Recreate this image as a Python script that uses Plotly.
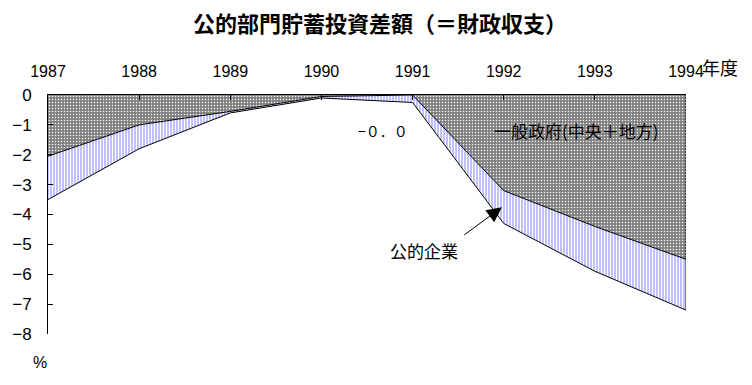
import plotly.graph_objects as go

years = [1987, 1988, 1989, 1990, 1991, 1992, 1993, 1994]
general_gov = [-2.05, -1.0, -0.55, -0.05, 0.0, -3.2, -4.4, -5.5]
public_ent = [-1.45, -0.8, -0.05, -0.05, -0.25, -1.1, -1.5, -1.7]
total = [g + p for g, p in zip(general_gov, public_ent)]
y_ticks = [0, -1, -2, -3, -4, -5, -6, -7, -8]
x_tick_labels = ["1987", "1988", "1989", "1990", "1991", "1992", "1993", "1994"]

CJK = "Noto Sans CJK JP"
NUM = "Liberation Sans"

fig = go.Figure()
fig.add_trace(go.Scatter(
    x=years, y=general_gov, mode="lines", fill="tozeroy",
    line=dict(color="black", width=1),
    fillcolor="#808080",
    fillpattern=dict(shape=".", bgcolor="#808080", fgcolor="white", size=3, solidity=0.2, fillmode="replace"),
    showlegend=False, hoverinfo="skip"))
fig.add_trace(go.Scatter(
    x=years, y=total, mode="lines", fill="tonexty",
    line=dict(color="black", width=1),
    fillcolor="#c0c0ff",
    fillpattern=dict(shape="|", bgcolor="#c0c0ff", fgcolor="white", size=3, solidity=0.34, fillmode="replace"),
    showlegend=False, hoverinfo="skip"))
# right edge of the area
fig.add_trace(go.Scatter(
    x=[years[-1], years[-1]], y=[0, total[-1]], mode="lines",
    line=dict(color="black", width=1), showlegend=False, hoverinfo="skip"))

# page body has an 8px margin: shrink the figure so it fits the 752x385 window
fig.update_layout(
    width=744, height=377,
    margin=dict(l=40, r=66, t=87, b=51, autoexpand=False),
    paper_bgcolor="white", plot_bgcolor="white",
    font=dict(family=CJK, color="black", size=16),
    title=dict(text="<b>公的部門貯蓄投資差額（＝財政収支）</b>", x=0.5, xanchor="center",
               y=0.958, yanchor="middle", font=dict(family=CJK, size=22, color="black")),
)
fig.update_xaxes(
    side="top", range=[years[0], years[-1]], tickmode="array",
    tickvals=years, ticktext=x_tick_labels, automargin=False,
    ticks="inside", ticklen=5, tickcolor="black",
    showline=True, linecolor="black", linewidth=1, mirror=False,
    showgrid=False, zeroline=False, ticklabelstandoff=11,
    tickfont=dict(family=NUM, size=16),
)
fig.update_yaxes(
    range=[-8, 0], tickmode="array", tickvals=y_ticks, automargin=False,
    ticks="inside", ticklen=5, tickcolor="black",
    showline=True, linecolor="black", linewidth=1,
    showgrid=False, zeroline=False, ticklabelstandoff=12,
    tickfont=dict(family=NUM, size=17),
)

fig.add_annotation(text="年度", xref="paper", yref="paper", x=1.0, y=1.0,
                   xanchor="left", yanchor="bottom", yshift=13, xshift=14,
                   showarrow=False, font=dict(family=CJK, size=18))
fig.add_annotation(text="%", xref="paper", yref="paper", x=0, y=0,
                   xanchor="center", yanchor="top", xshift=-8, yshift=-18,
                   showarrow=False, font=dict(family=NUM, size=16))
fig.add_annotation(text="−０．０", x=1990.68, y=-1.2, xref="x", yref="y",
                   showarrow=False, font=dict(family=CJK, size=14))
fig.add_annotation(text="一般政府(中央＋地方)", x=1992.8, y=-1.2, xref="x", yref="y",
                   showarrow=False, font=dict(family=CJK, size=17))
fig.add_annotation(text="−7.2", x=1993.8, y=-8.25, xref="x", yref="y",
                   showarrow=False, font=dict(family=NUM, size=17))
fig.add_annotation(text="公的企業", x=1991.12, y=-5.2, xref="x", yref="y",
                   showarrow=False, font=dict(family=CJK, size=17))
fig.add_annotation(text="", x=1991.98, y=-3.76, xref="x", yref="y",
                   ax=1991.55, ay=-4.72, axref="x", ayref="y",
                   showarrow=True, arrowhead=2, arrowsize=3, arrowwidth=1, arrowcolor="black")

fig.write_html("out.html")
